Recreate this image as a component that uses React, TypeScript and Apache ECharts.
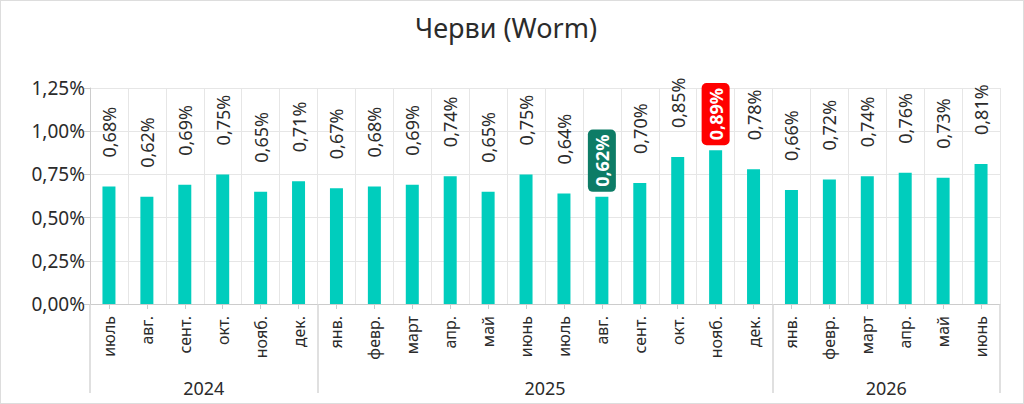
import React, { useEffect, useRef } from "react";
import * as echarts from "echarts";

const TITLE = "Черви (Worm)";
const months = [
  "июль", "авг.", "сент.", "окт.", "нояб.", "дек.",
  "янв.", "февр.", "март", "апр.", "май", "июнь", "июль", "авг.", "сент.", "окт.", "нояб.", "дек.",
  "янв.", "февр.", "март", "апр.", "май", "июнь",
];
const values = [
  0.68, 0.62, 0.69, 0.75, 0.65, 0.71,
  0.67, 0.68, 0.69, 0.74, 0.65, 0.75, 0.64, 0.62, 0.70, 0.85, 0.89, 0.78,
  0.66, 0.72, 0.74, 0.76, 0.73, 0.81,
];
const years = ["2024", "2025", "2026"];
const yearSpans = [6, 12, 6];
const minIndex = 13;
const maxIndex = 16;
const yTicks = [0, 0.25, 0.5, 0.75, 1.0, 1.25];

const FONT = "'Noto Sans', sans-serif";
const fmt = (v: number) => v.toFixed(2).replace(".", ",") + "%";

export default function App() {
  const ref = useRef<HTMLDivElement>(null);
  useEffect(() => {
    if (!ref.current) return;
    const chart = echarts.init(ref.current, null, { renderer: "svg" });

    const bounds: number[] = [0];
    const centers: number[] = [];
    let acc = 0;
    yearSpans.forEach((s) => {
      centers.push(acc + s / 2);
      acc += s;
      bounds.push(acc);
    });

    const data = values.map((v, i) => {
      if (i === minIndex || i === maxIndex) {
        return {
          value: v,
          label: {
            distance: 5,
            color: "#ffffff",
            fontWeight: "bold",
            backgroundColor: i === minIndex ? "#0d7c66" : "#ff0000",
            borderRadius: 5,
            padding: [5, 5, 5, 5],
          },
        };
      }
      return v;
    });

    chart.setOption({
      animation: false,
      title: {
        text: TITLE,
        left: 409,
        top: 8,
        textStyle: { fontFamily: FONT, fontSize: 27, fontWeight: "normal", color: "#2b2b2b" },
      },
      grid: { left: 89, right: 23, top: 87, bottom: 99 },
      xAxis: [
        {
          type: "category",
          data: months,
          position: "bottom",
          axisLine: { show: true, lineStyle: { color: "#cccccc" } },
          axisTick: { show: true, alignWithLabel: true, length: 5, lineStyle: { color: "#cccccc" } },
          axisLabel: { interval: 0, rotate: 90, margin: 12, fontSize: 16, color: "#2b2b2b", fontFamily: FONT },
          splitLine: { show: true, interval: 0, lineStyle: { color: "#e6e6e6" } },
        },
        {
          type: "value",
          min: 0,
          max: acc,
          position: "bottom",
          axisLine: { show: false },
          axisTick: { show: true, customValues: bounds, length: 89, lineStyle: { color: "#d6d6d6", width: 1.5 } },
          axisLabel: {
            show: true,
            customValues: centers,
            margin: 75,
            fontSize: 18,
            color: "#2b2b2b",
            fontFamily: FONT,
            formatter: (v: number) => {
              const idx = centers.findIndex((c) => Math.abs(c - v) < 1e-6);
              return idx >= 0 ? years[idx] : "";
            },
          },
          splitLine: { show: false },
        },
      ],
      yAxis: {
        type: "value",
        min: yTicks[0],
        max: yTicks[yTicks.length - 1],
        interval: 0.25,
        axisLine: { show: true, lineStyle: { color: "#cccccc" } },
        axisTick: { show: true, length: 6, lineStyle: { color: "#cccccc" } },
        axisLabel: { fontSize: 19, color: "#2b2b2b", fontFamily: FONT, margin: 5, formatter: (v: number) => fmt(v) },
        splitLine: { show: true, lineStyle: { color: "#e6e6e6" } },
      },
      series: [
        {
          type: "bar",
          xAxisIndex: 0,
          data,
          barWidth: 13,
          itemStyle: { color: "#00cdbd" },
          label: {
            show: true,
            position: "top",
            rotate: 90,
            align: "left",
            verticalAlign: "middle",
            distance: 29,
            fontSize: 18,
            color: "#2b2b2b",
            fontFamily: FONT,
            formatter: (p: any) => fmt(p.value),
          },
        },
      ],
    });
    return () => chart.dispose();
  }, []);

  return (
    <div
      style={{
        position: "absolute",
        left: 0,
        top: 0,
        width: 1024,
        height: 404,
        boxSizing: "border-box",
        border: "1px solid #dddddd",
        background: "#fff",
      }}
    >
      <div ref={ref} style={{ width: 1022, height: 402 }} />
    </div>
  );
}
